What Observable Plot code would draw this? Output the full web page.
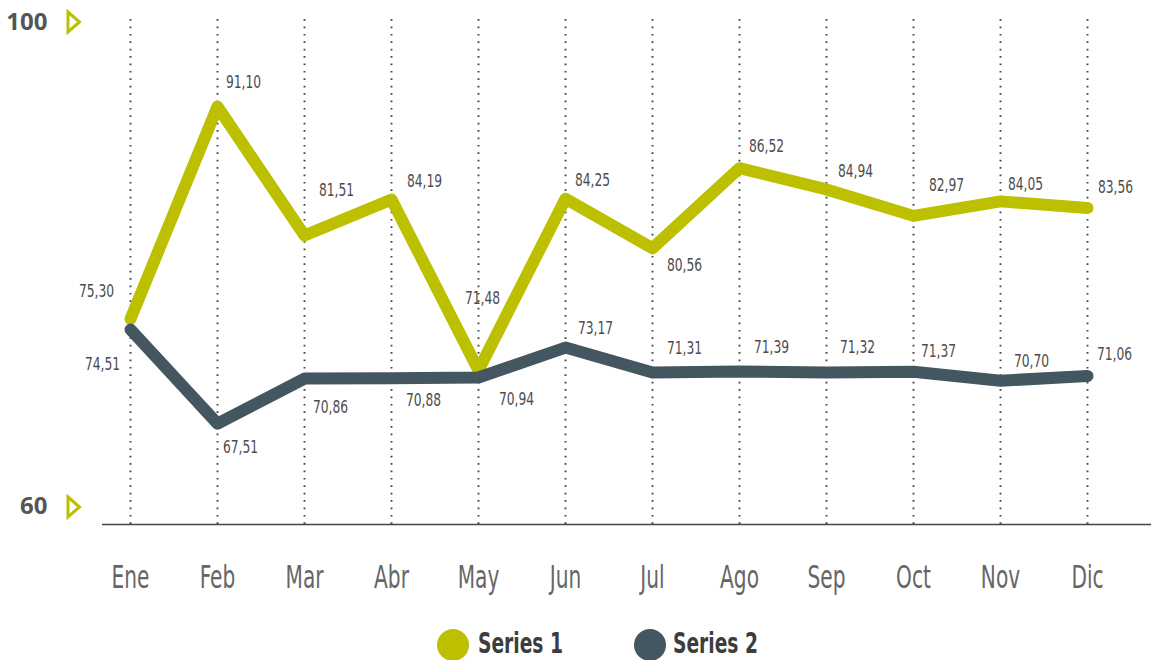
<!DOCTYPE html>
<html>
<head>
<meta charset="utf-8">
<script src="https://cdn.jsdelivr.net/npm/d3@7"></script>
<script src="https://cdn.jsdelivr.net/npm/@observablehq/plot@0.6"></script>
<style>
  html, body { margin: 0; padding: 0; background: #fff; overflow: hidden; }
  #chart svg { display: block; }
  #legend { position: relative; height: 70px;
    font-family: 'Liberation Sans Narrow', 'DejaVu Sans Condensed', sans-serif; font-weight: bold;
    font-size: 28px; color: #3d3d3d; }
  .sw { position: absolute; top: 19px; width: 32px; height: 32px; border-radius: 50%; }
  .lbl { position: absolute; top: 35px; line-height: 1; transform: translateY(-52%) scaleX(0.74); transform-origin: left center; white-space: nowrap; }
</style>
</head>
<body>
<div id="chart"></div>
<div id="legend"></div>
<script>
// ---- data ----
const months = ["Ene", "Feb", "Mar", "Abr", "May", "Jun", "Jul", "Ago", "Sep", "Oct", "Nov", "Dic"];
const series1 = [75.30, 91.10, 81.51, 84.19, 71.48, 84.25, 80.56, 86.52, 84.94, 82.97, 84.05, 83.56];
const series2 = [74.51, 67.51, 70.86, 70.88, 70.94, 73.17, 71.31, 71.39, 71.32, 71.37, 70.70, 71.06];
const seriesNames = ["Series 1", "Series 2"];
const yTickLabels = ["100", "60"];

// ---- layout (label offsets in px, relative to each point) ----
const label1Dx = [-34, 26, 32, 33, 4, 27, 32, 27, 29, 33, 25, 28];
const label1Dy = [-28, -24, -45, -18, -72, -18, 17, -22, -18, -31, -17, -21];
const label2Dx = [-28, 23, 26, 32, 38, 30, 32, 32, 31, 25, 31, 27];
const label2Dy = [35, 24, 29, 22, 22, -19, -24, -24, -25, -21, -20, -22];
const legendSwatchLeft = [437, 634];
const legendTextLeft = [478, 673];

const colors = ["#bcc000", "#445660"];
const narrow = "'Liberation Sans Narrow', 'DejaVu Sans Condensed', sans-serif";
const fmt = v => v.toFixed(2).replace(".", ",");

const data1 = months.map((m, i) => ({month: m, value: series1[i]}));
const data2 = months.map((m, i) => ({month: m, value: series2[i]}));

const tri = {
  draw(ctx) {
    ctx.moveTo(-5.5, -10);
    ctx.lineTo(6, 0);
    ctx.lineTo(-5.5, 10);
    ctx.closePath();
  }
};

const labelMarks = (data, dxs, dys) => data.map((d, i) =>
  Plot.text([d], {
    x: "month", y: "value", text: v => fmt(v.value),
    dx: dxs[i], dy: dys[i], fontSize: 18, fill: "#4d4d4d", fontFamily: narrow
  })
);

const chart = Plot.plot({
  width: 1151,
  height: 610,
  marginLeft: 102,
  marginRight: 0,
  marginTop: 0,
  marginBottom: 86,
  style: {background: "#fff", fontFamily: narrow},
  x: {type: "point", domain: months, range: [127, 1090], padding: 0, label: null, axis: null},
  y: {domain: [60, 99], axis: null},
  marks: [
    Plot.ruleX(months, {x: d => d, y1: 60, y2: 97.8, stroke: "#444", strokeWidth: 1.9, strokeDasharray: "1.7,5.7"}),
    Plot.ruleY([60], {stroke: "#444", strokeWidth: 1.5}),
    Plot.line(data1, {x: "month", y: "value", stroke: colors[0], strokeWidth: 12, strokeLinecap: "round", strokeLinejoin: "round"}),
    Plot.line(data2, {x: "month", y: "value", stroke: colors[1], strokeWidth: 12, strokeLinecap: "round", strokeLinejoin: "round"}),
    ...labelMarks(data1, label1Dx, label1Dy),
    ...labelMarks(data2, label2Dx, label2Dy),
    // month tick labels
    Plot.text(months, {x: d => d, frameAnchor: "bottom", lineAnchor: "middle", dy: 53,
      fontSize: 32, fill: "#666", fontFamily: narrow}),
    Plot.text([yTickLabels[0]], {frameAnchor: "top-left", lineAnchor: "middle", text: d => d, dx: -55, dy: 22, textAnchor: "end",
      fontSize: 24, fontWeight: "bold", fill: "#555", fontFamily: "'Open Sans', sans-serif"}),
    Plot.text([yTickLabels[1]], {frameAnchor: "bottom-left", lineAnchor: "middle", text: d => d, dx: -55, dy: -18, textAnchor: "end",
      fontSize: 24, fontWeight: "bold", fill: "#555", fontFamily: "'Open Sans', sans-serif"}),
    Plot.dot([0], {frameAnchor: "top-left", dx: -29, dy: 21.5, symbol: tri, stroke: colors[0], strokeWidth: 3, fill: "none"}),
    Plot.dot([0], {frameAnchor: "bottom-left", dx: -29, dy: -17.5, symbol: tri, stroke: colors[0], strokeWidth: 3, fill: "none"})
  ]
});
document.getElementById("chart").append(chart);

// horizontally condense text around its own anchor point
function condense(sel, s) {
  sel.each(function() {
    const c = this.transform.baseVal.consolidate();
    const e = c ? c.matrix.e : 0, f = c ? c.matrix.f : 0;
    const x = this.x.baseVal.length ? this.x.baseVal[0].value : 0;
    const y = this.y.baseVal.length ? this.y.baseVal[0].value : 0;
    this.setAttribute("transform", `translate(${e + x},${f + y}) scale(${s},1) translate(${-x},${-y})`);
  });
}
condense(d3.select(chart).selectAll('g[font-size="32"] text'), 0.7);
condense(d3.select(chart).selectAll('g[font-size="18"] text'), 0.76);

// legend
const legend = d3.select("#legend");
seriesNames.forEach((name, i) => {
  legend.append("div").attr("class", "sw").style("left", legendSwatchLeft[i] + "px").style("background", colors[i]);
  legend.append("span").attr("class", "lbl").style("left", legendTextLeft[i] + "px").text(name);
});
</script>
</body>
</html>
